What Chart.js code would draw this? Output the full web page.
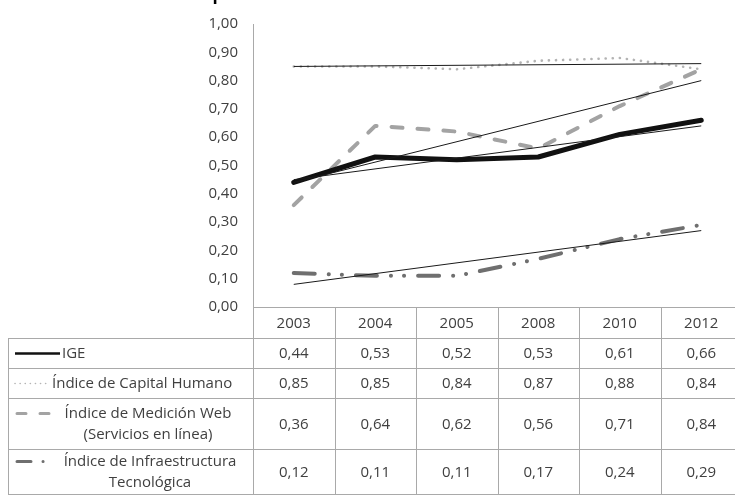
<!DOCTYPE html>
<html>
<head>
<meta charset="utf-8">
<script src="https://cdn.jsdelivr.net/npm/chart.js@4"></script>
<style>
html,body{margin:0;padding:0;background:#fff;overflow:hidden;width:735px;height:495px;}
canvas{display:block;}
</style>
</head>
<body>
<canvas id="c" width="742" height="495"></canvas>
<script>
// ---- data ----
const years = ['2003', '2004', '2005', '2008', '2010', '2012'];
const ige = [0.44, 0.53, 0.52, 0.53, 0.61, 0.66];
const capitalHumano = [0.85, 0.85, 0.84, 0.87, 0.88, 0.84];
const medicionWeb = [0.36, 0.64, 0.62, 0.56, 0.71, 0.84];
const infraestructura = [0.12, 0.11, 0.11, 0.17, 0.24, 0.29];
// linear trend lines: [value at 2003, value at 2012]
const trendIge = [0.45, 0.64];
const trendCapital = [0.85, 0.86];
const trendWeb = [0.44, 0.80];
const trendInfra = [0.08, 0.27];
const seriesLabels = [['IGE'], ['Índice de Capital Humano'], ['Índice de Medición Web', '(Servicios en línea)'], ['Índice de Infraestructura', 'Tecnológica']];
const yTickValues = [0, 0.1, 0.2, 0.3, 0.4, 0.5, 0.6, 0.7, 0.8, 0.9, 1.0];
const titleText = 'Gráfico 1. Evolución del desempeño de los subíndices del Índice de Gobierno Electrónico';

const FONT = '"Open Sans", Lato, sans-serif';
const TEXT = '#404040';
const fmt = v => v.toFixed(2).replace('.', ',');

function trendData(t) {
  return years.map((_, i) => i === 0 ? t[0] : (i === years.length - 1 ? t[1] : null));
}

const mainStyles = [
  { data: ige, borderColor: '#111111', borderWidth: 5, borderDash: [], borderCapStyle: 'round', keyWidth: 2.5 },
  { data: capitalHumano, borderColor: '#b4b4b4', borderWidth: 2.6, borderDash: [0.1, 7], borderCapStyle: 'round', keyWidth: 1.6 },
  { data: medicionWeb, borderColor: '#a3a3a3', borderWidth: 4, borderDash: [11, 15], borderCapStyle: 'round', keyWidth: 3 },
  { data: infraestructura, borderColor: '#6f6f6f', borderWidth: 4, borderDash: [21, 14, 0.1, 13, 0.1, 14], borderCapStyle: 'round', keyWidth: 3 }
];

const datasets = [];
[trendIge, trendCapital, trendWeb, trendInfra].forEach(t => {
  datasets.push({
    label: '', data: trendData(t), borderColor: '#1a1a1a', borderWidth: 1,
    pointRadius: 0, spanGaps: true, tension: 0, fill: false
  });
});
mainStyles.forEach((s, i) => {
  datasets.push({
    label: seriesLabels[i].join(' '), data: s.data, borderColor: s.borderColor,
    borderWidth: s.borderWidth, borderDash: s.borderDash, borderCapStyle: s.borderCapStyle,
    borderJoinStyle: 'round', pointRadius: 0, tension: 0, fill: false
  });
});

const ROWS = [307, 338, 368, 398, 449, 494];
const LEFT_EDGE = 8;

const tablePlugin = {
  id: 'dataTable',
  afterDraw(chart) {
    const ctx = chart.ctx;
    const xs = chart.scales.x;
    const area = chart.chartArea;
    const n = years.length;
    const bandW = (area.right - area.left) / n;
    ctx.save();
    // clipped title at top
    ctx.fillStyle = '#000';
    ctx.font = 'bold 17px ' + FONT;
    ctx.textAlign = 'center';
    ctx.textBaseline = 'alphabetic';
    ctx.fillText(titleText, 326, 0);

    // lines
    ctx.strokeStyle = '#a9a9a9';
    ctx.lineWidth = 1;
    ctx.beginPath();
    ctx.moveTo(area.left + 0.5, area.top);
    ctx.lineTo(area.left + 0.5, ROWS[5]);
    for (let i = 1; i <= n; i++) {
      const x = Math.round(area.left + i * bandW) + 0.5;
      ctx.moveTo(x, ROWS[0]);
      ctx.lineTo(x, ROWS[5]);
    }
    ctx.moveTo(area.left, ROWS[0] + 0.5);
    ctx.lineTo(area.right, ROWS[0] + 0.5);
    for (let r = 1; r < ROWS.length; r++) {
      ctx.moveTo(LEFT_EDGE, ROWS[r] + 0.5);
      ctx.lineTo(area.right, ROWS[r] + 0.5);
    }
    ctx.moveTo(LEFT_EDGE + 0.5, ROWS[1]);
    ctx.lineTo(LEFT_EDGE + 0.5, ROWS[5]);
    ctx.stroke();

    ctx.fillStyle = TEXT;
    ctx.font = '15px ' + FONT;
    ctx.textAlign = 'center';
    ctx.textBaseline = 'middle';
    years.forEach((y, i) => {
      ctx.fillText(y, xs.getPixelForValue(i), (ROWS[0] + ROWS[1]) / 2 + 1);
    });
    mainStyles.forEach((s, r) => {
      const cy = (ROWS[r + 1] + ROWS[r + 2]) / 2 + 1;
      s.data.forEach((v, i) => {
        ctx.fillText(fmt(v), xs.getPixelForValue(i), cy);
      });
    });
    const keyDefs = [
      { x0: 15, x1: 60, textX: 62, align: 'left' },
      { x0: 15, x1: 48, textX: 52, align: 'left' },
      { x0: 17, x1: 50, textX: 148, align: 'center' },
      { x0: 17, x1: 46, textX: 150, align: 'center' }
    ];
    mainStyles.forEach((s, r) => {
      const top = ROWS[r + 1], bot = ROWS[r + 2];
      const cy = (top + bot) / 2;
      const lines = seriesLabels[r];
      const lh = 21;
      const firstY = cy - (lines.length - 1) * lh / 2;
      const kd = keyDefs[r];
      ctx.save();
      ctx.strokeStyle = s.borderColor;
      ctx.lineWidth = s.keyWidth;
      ctx.lineCap = r === 0 ? 'butt' : 'round';
      if (r === 1) ctx.setLineDash([0.1, 5]);
      else if (r === 2) ctx.setLineDash([9, 14]);
      else if (r === 3) ctx.setLineDash([14, 12, 0.1, 50]);
      ctx.beginPath();
      const ky = r >= 2 ? firstY : cy;
      ctx.moveTo(kd.x0, ky + 0.5);
      ctx.lineTo(kd.x1, ky + 0.5);
      ctx.stroke();
      ctx.restore();
      ctx.fillStyle = TEXT;
      ctx.textAlign = kd.align;
      lines.forEach((t, k) => {
        ctx.fillText(t, kd.textX, firstY + k * lh + 1);
      });
    });
    ctx.restore();
  }
};

new Chart(document.getElementById('c'), {
  type: 'line',
  data: { labels: years, datasets: datasets },
  options: {
    responsive: false,
    animation: false,
    layout: { padding: { top: 19, bottom: 188, left: 0, right: 0 } },
    plugins: { legend: { display: false }, tooltip: { enabled: false }, title: { display: false } },
    scales: {
      x: { display: false, offset: true },
      y: {
        min: 0, max: 1,
        afterFit(scale) { scale.width = 253; },
        afterBuildTicks(scale) { scale.ticks = yTickValues.map(v => ({ value: v })); },
        grid: { display: false, drawTicks: false },
        border: { display: false },
        ticks: {
          padding: 15, color: TEXT, font: { family: FONT, size: 15 },
          callback: v => fmt(v)
        }
      }
    }
  },
  plugins: [tablePlugin]
});
</script>
</body>
</html>
